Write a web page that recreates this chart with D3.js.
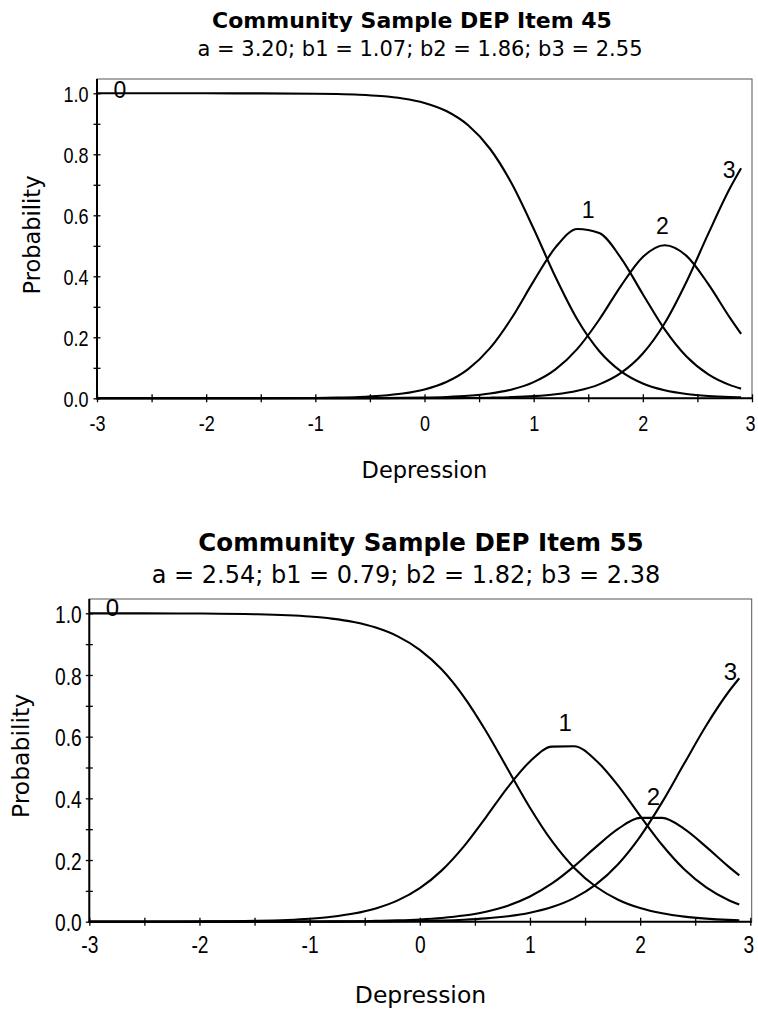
<!DOCTYPE html>
<html>
<head>
<meta charset="utf-8">
<script src="https://cdn.jsdelivr.net/npm/d3@7"></script>
<style>
  body { margin: 0; background: #fff; }
  svg { display: block; }
</style>
</head>
<body>
<div id="chart"></div>
<script>
// theta values the curves were read at
const xGrid = [-3, -2.5, -2, -1.5, -1.0, -0.8, -0.6, -0.4, -0.2, 0, 0.2, 0.4, 0.6, 0.8,
  1.0, 1.2, 1.4, 1.6, 1.8, 2.0, 2.2, 2.4, 2.6, 2.8, 2.9];

// Item 45, category response curves
const item45P0 = [1.000, 1.000, 1.000, 0.9997, 0.9987, 0.9975, 0.9952, 0.9910, 0.9831, 0.9685, 0.9418, 0.8951, 0.8182, 0.7034,
  0.5558, 0.3975, 0.2581, 0.1550, 0.0882, 0.0485, 0.0262, 0.0140, 0.0074, 0.0039, 0.0029];
const item45P1 = [0.000, 0.000, 0.0001, 0.0003, 0.0012, 0.0023, 0.0044, 0.0083, 0.0155, 0.0290, 0.0533, 0.0956, 0.1644, 0.2641,
  0.3842, 0.4946, 0.5552, 0.5418, 0.4597, 0.3413, 0.2258, 0.1368, 0.0783, 0.0432, 0.0317];
const item45P2 = [0, 0, 0, 0, 0.0001, 0.0002, 0.0004, 0.0007, 0.0013, 0.0023, 0.0044, 0.0082, 0.0155, 0.0289,
  0.0530, 0.0948, 0.1621, 0.2576, 0.3689, 0.4634, 0.5020, 0.4670, 0.3744, 0.2629, 0.2114];
const item45P3 = [0, 0, 0, 0, 0, 0, 0, 0, 0.0001, 0.0003, 0.0005, 0.0010, 0.0020, 0.0037,
  0.0070, 0.0131, 0.0246, 0.0457, 0.0832, 0.1468, 0.2460, 0.3822, 0.5399, 0.6900, 0.7540];

// Item 55
const item55P0 = [0.9999, 0.9998, 0.9992, 0.9970, 0.9895, 0.9827, 0.9716, 0.9536, 0.9252, 0.8815, 0.8175, 0.7293, 0.6185, 0.4937,
  0.3697, 0.2609, 0.1752, 0.1133, 0.0714, 0.0442, 0.0271, 0.0165, 0.0100, 0.0060, 0.0047];
const item55P1 = [0.0001, 0.0002, 0.0008, 0.0028, 0.0097, 0.0160, 0.0263, 0.0429, 0.0690, 0.1088, 0.1664, 0.2443, 0.3384, 0.4366,
  0.5195, 0.5676, 0.5688, 0.5229, 0.4413, 0.3434, 0.2487, 0.1700, 0.1112, 0.0706, 0.0558];
const item55P2 = [0, 0, 0.0001, 0.0002, 0.0006, 0.0010, 0.0016, 0.0027, 0.0044, 0.0073, 0.0121, 0.0199, 0.0324, 0.0520,
  0.0816, 0.1239, 0.1794, 0.2426, 0.3008, 0.3365, 0.3366, 0.3008, 0.2426, 0.1794, 0.1502];
const item55P3 = [0, 0, 0, 0, 0.0002, 0.0003, 0.0005, 0.0009, 0.0014, 0.0024, 0.0039, 0.0065, 0.0108, 0.0178,
  0.0292, 0.0476, 0.0766, 0.1212, 0.1865, 0.2759, 0.3876, 0.5127, 0.6362, 0.7440, 0.7893];

const categoryNames = ["0", "1", "2", "3"];
// where the category numbers sit, in data units
const label45X = [-2.79, 1.50, 2.18, 2.79];
const label45Y = [1.011, 0.618, 0.565, 0.749];
const label55X = [-2.79, 1.32, 2.12, 2.82];
const label55Y = [1.019, 0.645, 0.405, 0.811];

const yTicks = [0, 0.1, 0.2, 0.3, 0.4, 0.5, 0.6, 0.7, 0.8, 0.9, 1.0];
const yLabelled = [0, 0.2, 0.4, 0.6, 0.8, 1.0];
const xTicks = [-3, -2.5, -2, -1.5, -1, -0.5, 0, 0.5, 1, 1.5, 2, 2.5, 3];
const xLabelled = [-3, -2, -1, 0, 1, 2, 3];

const titles45 = ["Community Sample DEP Item 45", "a = 3.20; b1 = 1.07; b2 = 1.86; b3 = 2.55"];
const titles55 = ["Community Sample DEP Item 55", "a = 2.54; b1 = 0.79; b2 = 1.82; b3 = 2.38"];
const xTitle = "Depression";
const yTitle = "Probability";

const width = 758, height = 1009;
const svg = d3.select("#chart").append("svg")
  .attr("width", width)
  .attr("height", height);

const tickFont = "'Liberation Sans', Arial, sans-serif";
const textFont = "'DejaVu Sans', sans-serif";

const panels = [
  {
    titles: titles45, series: [item45P0, item45P1, item45P2, item45P3],
    labelX: label45X, labelY: label45Y,
    left: 97, right: 752, boxRight: 752, top: 79, y0: 398.3, y1: 93.3,
    t1: 28, t2: 56, t1x: 412, t2x: 420, t1Size: 22, t2Size: 21,
    tickSize: 22.5, tickPad: 5, xLabelY: 33, labelSize: 23,
    xTitleY: 478, yTitleX: 39.5, yTitleY: 235, axisTitleSize: 22.5
  },
  {
    titles: titles55, series: [item55P0, item55P1, item55P2, item55P3],
    labelX: label55X, labelY: label55Y,
    left: 89.3, right: 750.3, boxRight: 751.7, top: 599, y0: 921.7, y1: 613.3,
    t1: 551, t2: 583, t1x: 421, t2x: 406, t1Size: 24.5, t2Size: 24,
    tickSize: 24, tickPad: 4, xLabelY: 31, labelSize: 24,
    xTitleY: 1003, yTitleX: 29, yTitleY: 756, axisTitleSize: 23.5
  }
];

panels.forEach(drawPanel);

// squeeze tick labels, the original uses a narrow face
function narrow(sel) {
  sel.each(function () {
    const len = this.getComputedTextLength();
    if (len > 0) d3.select(this).attr("textLength", len * 0.8).attr("lengthAdjust", "spacingAndGlyphs");
  });
}

function drawPanel(p) {
  const g = svg.append("g");
  const x = d3.scaleLinear().domain([-3, 3]).range([p.left, p.right]);
  const y = d3.scaleLinear().domain([0, 1]).range([p.y0, p.y1]);
  const cx = (p.left + p.boxRight) / 2;

  // titles
  g.append("text")
    .attr("x", p.t1x).attr("y", p.t1)
    .attr("text-anchor", "middle")
    .style("font-family", textFont).style("font-size", p.t1Size + "px").style("font-weight", "bold")
    .text(p.titles[0]);
  g.append("text")
    .attr("x", p.t2x).attr("y", p.t2)
    .attr("text-anchor", "middle")
    .style("font-family", textFont).style("font-size", p.t2Size + "px")
    .text(p.titles[1]);

  // plot frame
  g.append("rect")
    .attr("x", p.left).attr("y", p.top)
    .attr("width", p.boxRight - p.left).attr("height", p.y0 - p.top)
    .attr("fill", "none").attr("stroke", "#555").attr("stroke-width", 1);

  // curves
  const line = d3.line()
    .x((d, i) => x(xGrid[i]))
    .y(d => y(d))
    .curve(d3.curveMonotoneX);

  g.selectAll("path.curve")
    .data(p.series)
    .join("path")
    .attr("class", "curve")
    .attr("d", line)
    .attr("fill", "none")
    .attr("stroke", "#000")
    .attr("stroke-width", 2.1);

  // category numbers
  g.selectAll("text.cat")
    .data(categoryNames)
    .join("text")
    .attr("class", "cat")
    .attr("x", (d, i) => x(p.labelX[i]))
    .attr("y", (d, i) => y(p.labelY[i]))
    .attr("dy", "0.36em")
    .attr("text-anchor", "middle")
    .style("font-family", "'Liberation Sans', Arial, sans-serif")
    .style("font-size", p.labelSize + "px")
    .text(d => d);

  // y axis
  const yAxis = g.append("g")
    .attr("transform", `translate(${p.left},0)`)
    .call(d3.axisLeft(y)
      .tickValues(yTicks)
      .tickSize(3.5)
      .tickSizeOuter(0)
      .tickPadding(p.tickPad)
      .tickFormat(d => yLabelled.some(v => Math.abs(v - d) < 1e-9) ? d.toFixed(1) : ""));
  yAxis.select(".domain").remove();
  yAxis.selectAll(".tick line").attr("x1", 3.5).attr("stroke", "#000").attr("stroke-width", 1.3);
  yAxis.selectAll(".tick text")
    .attr("dy", "0.38em")
    .style("font-family", tickFont).style("font-size", p.tickSize + "px").attr("fill", "#000")
    .call(narrow);

  // x axis
  const xAxis = g.append("g")
    .attr("transform", `translate(0,${p.y0})`)
    .call(d3.axisBottom(x)
      .tickValues(xTicks)
      .tickSize(4)
      .tickSizeOuter(0)
      .tickFormat(d => xLabelled.includes(d) ? String(d) : ""));
  xAxis.select(".domain").remove();
  xAxis.selectAll(".tick line").attr("y1", -4).attr("stroke", "#000").attr("stroke-width", 1.3);
  xAxis.selectAll(".tick text")
    .attr("y", p.xLabelY).attr("dy", null)
    .style("font-family", tickFont).style("font-size", p.tickSize + "px").attr("fill", "#000")
    .call(narrow);
  // keep the last label inside the page
  xAxis.selectAll(".tick text").filter(d => d === 3).attr("x", -2);

  // axis lines
  g.append("line")
    .attr("x1", p.left).attr("x2", p.left)
    .attr("y1", p.top).attr("y2", p.y0 + 1)
    .attr("stroke", "#000").attr("stroke-width", 2);
  g.append("line")
    .attr("x1", p.left - 1).attr("x2", p.boxRight)
    .attr("y1", p.y0).attr("y2", p.y0)
    .attr("stroke", "#000").attr("stroke-width", 2);

  // axis titles
  g.append("text")
    .attr("x", cx).attr("y", p.xTitleY)
    .attr("text-anchor", "middle")
    .style("font-family", textFont).style("font-size", p.axisTitleSize + "px")
    .text(xTitle);
  g.append("text")
    .attr("transform", `translate(${p.yTitleX},${p.yTitleY}) rotate(-90)`)
    .attr("text-anchor", "middle")
    .style("font-family", textFont).style("font-size", p.axisTitleSize + "px")
    .text(yTitle);
}
</script>
</body>
</html>
